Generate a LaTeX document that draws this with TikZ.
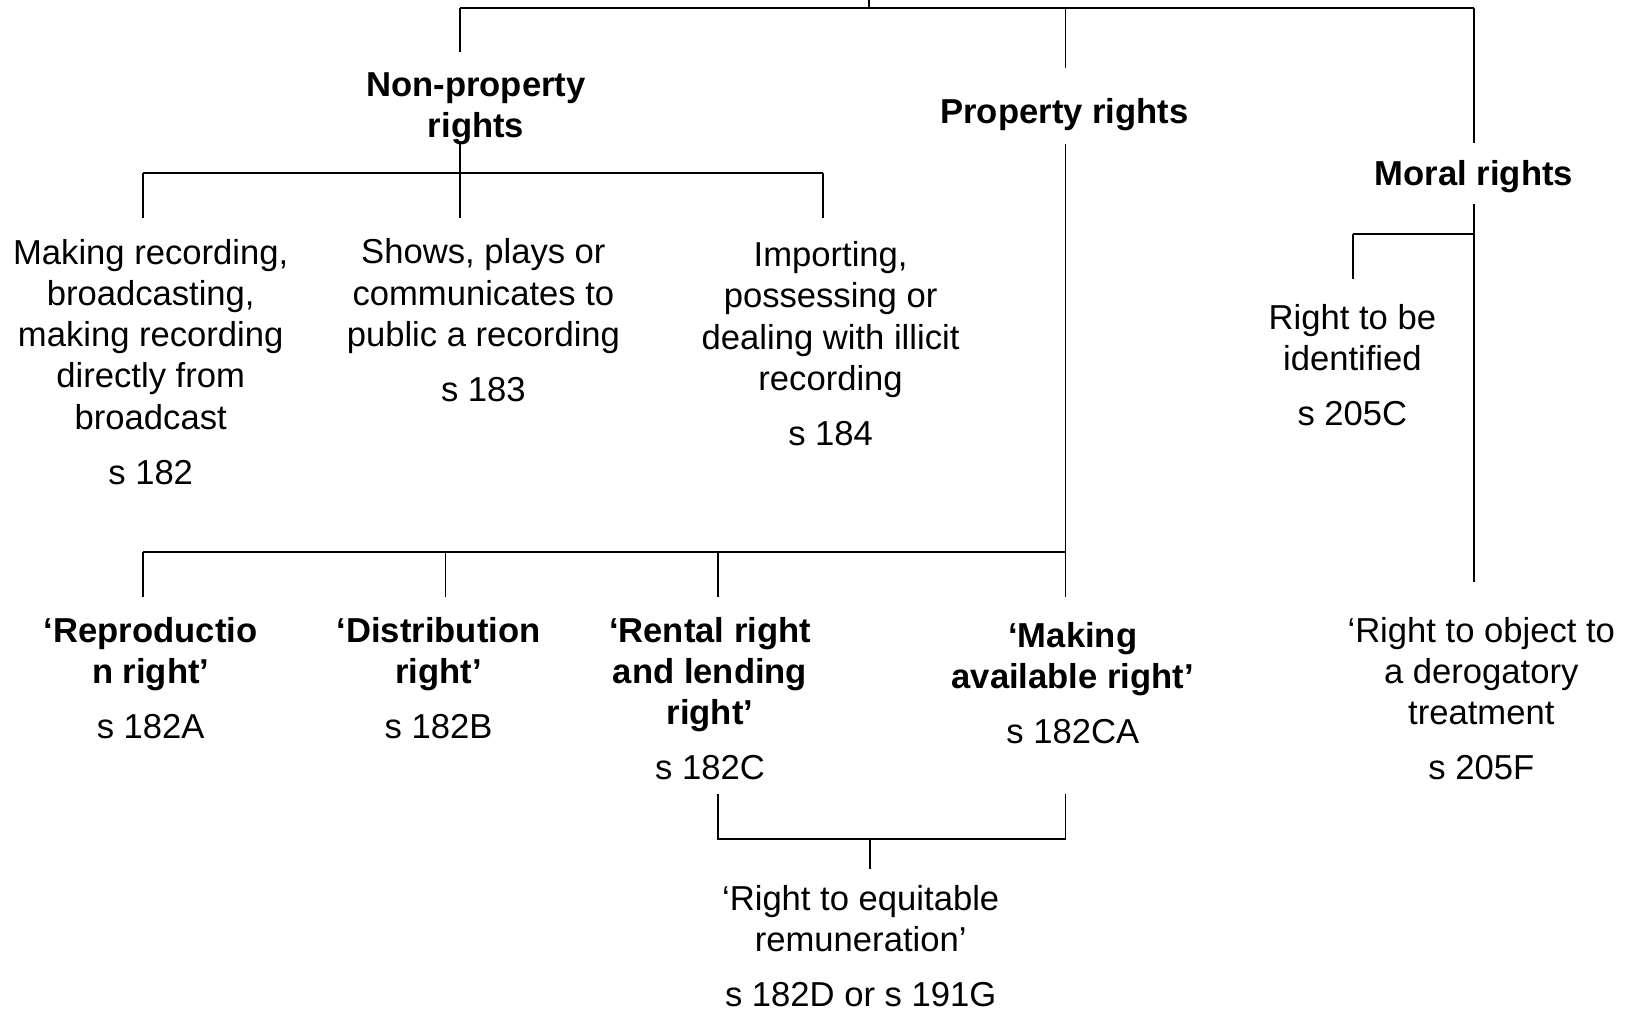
\documentclass[tikz,border=0pt]{standalone}
\usepackage{fontspec}
\setmainfont{Liberation Sans}
\usetikzlibrary{calc}

\tikzset{
	txt/.style={align=center, inner sep=0pt, font=\fontsize{9.85pt}{11.75pt}\selectfont},
	hd/.style={txt, font=\fontsize{9.85pt}{11.75pt}\selectfont\bfseries},
}
\newcommand{\secgap}{\\[3.9pt]}

\begin{document}
\begin{tikzpicture}[line width=0.55pt]
	\useasboundingbox (0, 0) rectangle (16.30, -10.11);
	% headings
	\node[hd] (nonprop) at (4.76, -1.085) {Non-property\\rights};
	\node[hd] (prop) at (10.645, -1.15) {Property rights};
	\node[hd] (moral) at (14.74, -1.77) {Moral rights};
	% non-property rights
	\node[txt] (s182) at (1.507, -3.618) {Making recording,\\broadcasting,\\making recording\\directly from\\broadcast\secgap s 182};
	\node[txt] (s183) at (4.834, -3.202) {Shows, plays or\\communicates to\\public a recording\secgap s 183};
	\node[txt] (s184) at (8.306, -3.435) {Importing,\\possessing or\\dealing with illicit\\recording\secgap s 184};
	% property rights
	\node[hd] (s182A) at (1.507, -6.778) {‘Reproductio\\n right’\secgap\mdseries s 182A};
	\node[hd] (s182B) at (4.386, -6.778) {‘Distribution\\right’\secgap\mdseries s 182B};
	\node[hd] (s182C) at (7.10, -6.985) {‘Rental right\\and lending\\right’\secgap\mdseries s 182C};
	\node[hd] (s182CA) at (10.728, -6.834) {‘Making\\available right’\secgap\mdseries s 182CA};
	\node[txt] (s182D) at (8.607, -9.46) {‘Right to equitable\\remuneration’\secgap s 182D or s 191G};
	% moral rights
	\node[txt] (s205C) at (13.524, -3.654) {Right to be\\identified\secgap s 205C};
	\node[txt] (s205F) at (14.813, -6.985) {‘Right to object to\\a derogatory\\treatment\secgap s 205F};

	\coordinate (root) at (8.69, 0);
	\coordinate (tl) at (4.60, -0.08);
	\coordinate (tm) at (10.655, -0.08);
	\coordinate (tr) at (14.74, -0.08);
	\coordinate (npin) at (4.60, -0.52);
	\coordinate (prin) at (10.655, -0.677);
	\coordinate (moin) at (14.74, -1.43);
	\coordinate (npout) at (4.60, -1.43);
	\coordinate (prout) at (10.655, -1.44);
	\coordinate (moout) at (14.74, -2.04);
	\coordinate (npl) at (1.43, -1.733);
	\coordinate (npr) at (8.23, -1.733);
	\coordinate (npd) at (4.60, -2.18);
	\coordinate (prl) at (1.43, -5.517);
	\coordinate (prd2) at (4.455, -5.967);
	\coordinate (prd3) at (7.176, -5.967);
	\coordinate (prd) at (10.655, -5.967);
	\coordinate (mol) at (13.53, -2.34);
	\coordinate (mold) at (13.53, -2.79);
	\coordinate (mod) at (14.74, -5.817);
	\coordinate (brl) at (7.176, -7.94);
	\coordinate (brr) at (10.655, -7.94);
	\coordinate (brbus) at (8.697, -8.393);
	\coordinate (brst) at (8.697, -8.69);

	\draw
  (root) -- (root |- tl)
  (tl) -- (tr)
  (tl) -- (npin)
  (tm) -- (prin)
  (tr) -- (moin)
  (npout) -- (npd)
  (npl) -- (npr)
  (npl) -- (npl |- npd)
  (npr) -- (npr |- npd)
  (prout) -- (prd)
  (prl) -- (prl -| prout)
  (prl) -- (prl |- prd)
  (prd2 |- prl) -- (prd2)
  (prd3 |- prl) -- (prd3)
  (moout) -- (mod)
  (mol) -- (mol -| moout)
  (mol) -- (mold)
  (brl) -- (brl |- brbus) -- (brr |- brbus) -- (brr)
  (brbus) -- (brst)
	;
\end{tikzpicture}
\end{document}
